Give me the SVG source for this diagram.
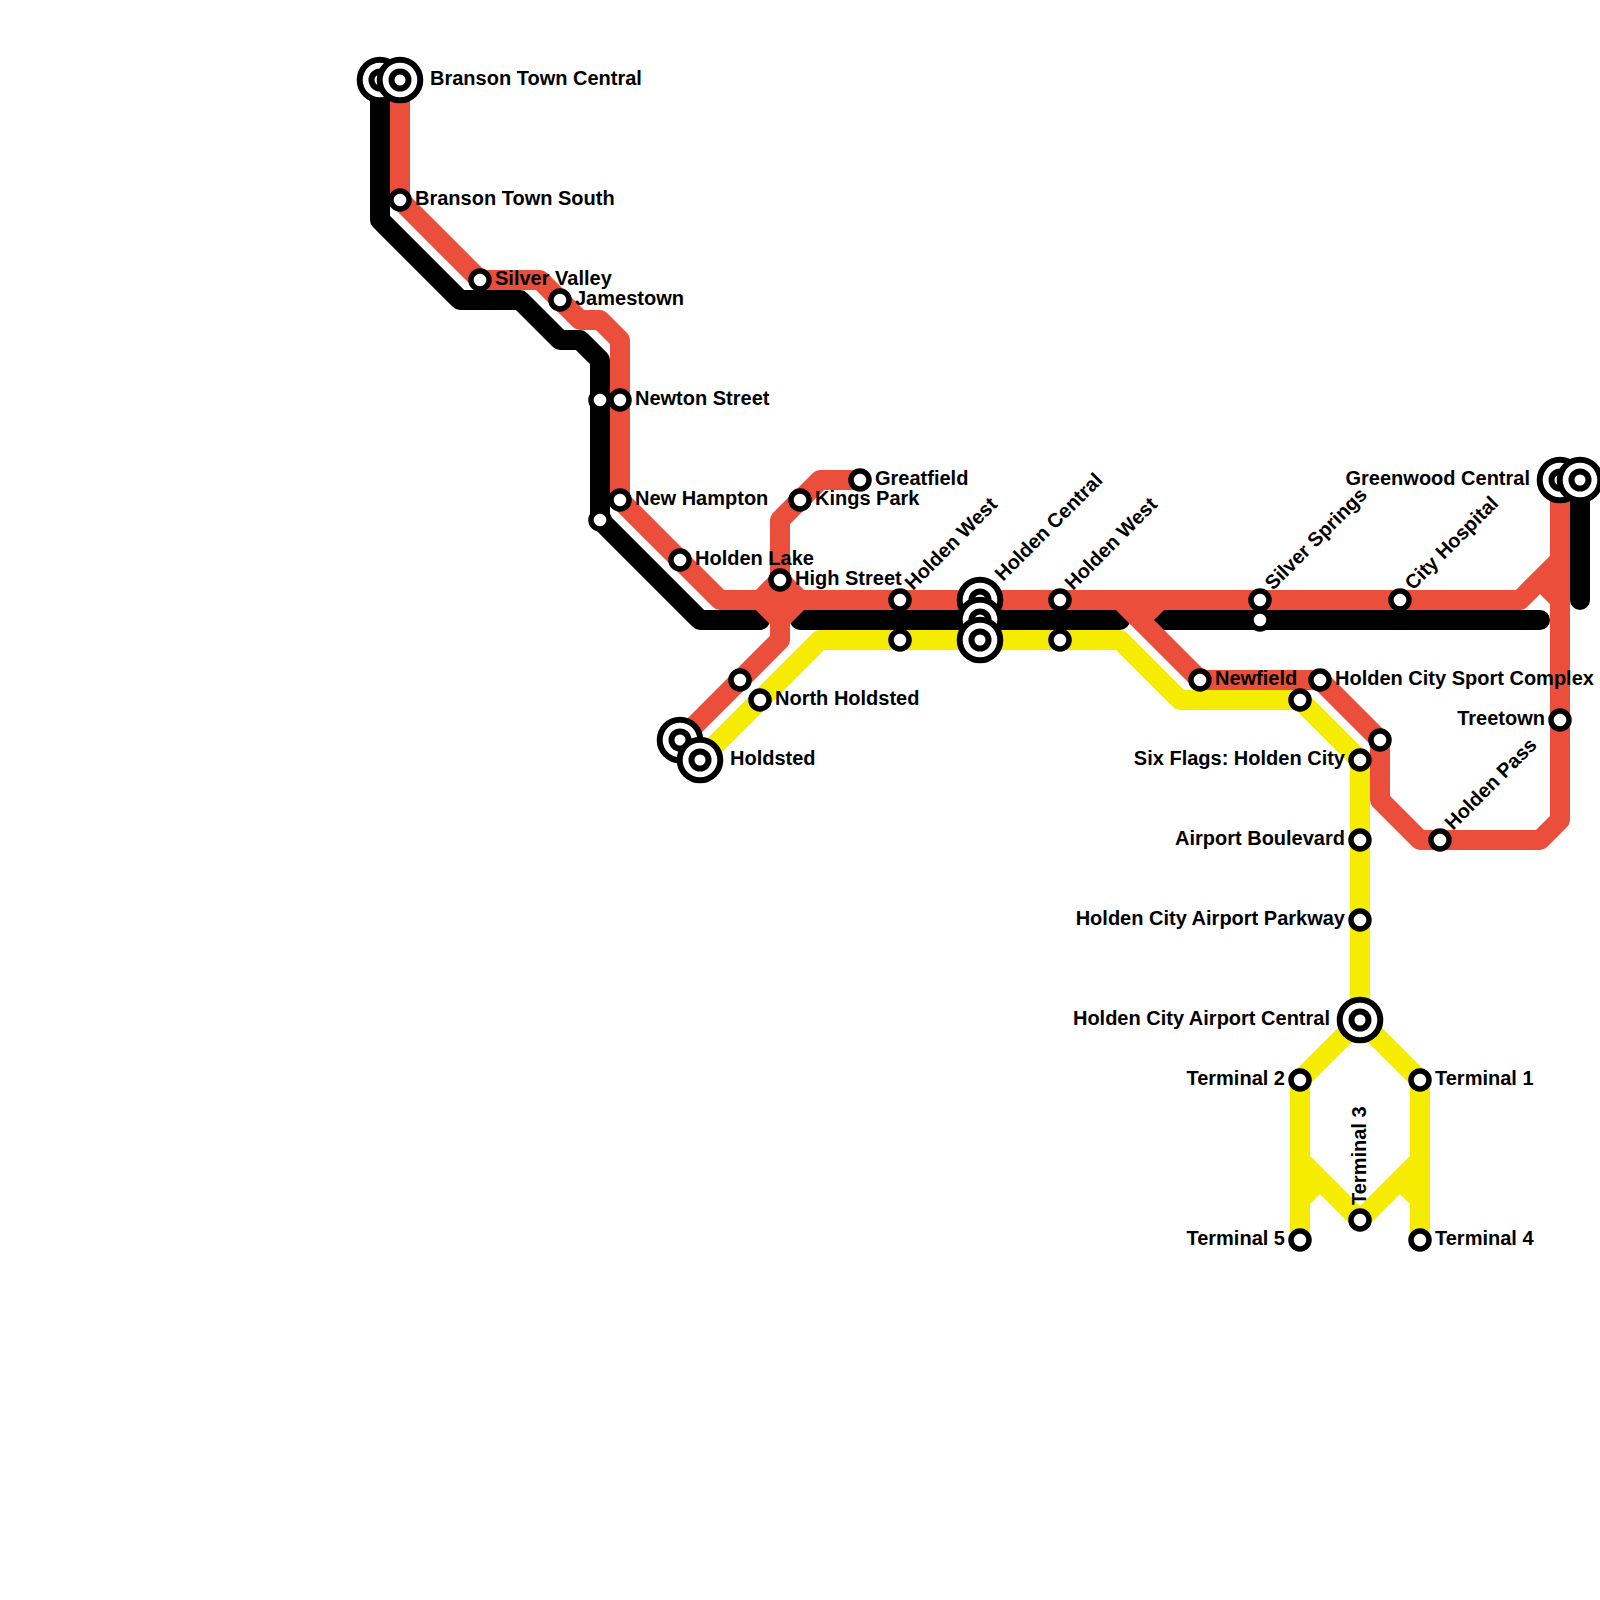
<svg xmlns="http://www.w3.org/2000/svg" width="1600" height="1600" viewBox="0 0 1600 1600">
<defs>
<style>
.ln{fill:none;stroke-width:20;stroke-linecap:round;stroke-linejoin:round}
.y{stroke:#f5ec00}
.k{stroke:#000}
.r{stroke:#eb4f3c}
.s{fill:#fff;stroke:#000;stroke-width:5.5}
.b{fill:#fff;stroke:#000;stroke-width:6}
text{font-family:"Liberation Sans",Arial,sans-serif;font-weight:700;font-size:20px;fill:#000}
.e{text-anchor:end}
</style>
<g id="stn"><circle class="s" r="9"/></g>
<g id="big"><circle class="b" r="20.3"/><circle class="b" r="8.5"/></g>
</defs>
<rect width="1600" height="1600" fill="#fff"/>
<g id="connectors">
<path class="ln y" d="M700 760L820 640H1120L1180 700H1300L1360 760V1020M1360 1020L1300 1080V1240M1300 1160L1360 1220M1320 1180L1300 1200M1360 1020L1420 1080V1240M1420 1160L1360 1220M1400 1180L1420 1200"/>
<path class="ln k" d="M380 80V220L460 300H520L560 340H580L600 360V520L700 620H760M800 620H1120M1160 620H1540M1580 480V600"/>
<path class="ln r" d="M400 80V200L480 280H540L580 320H600L620 340V500L720 600H1520L1560 560M760 600L780 620L800 600M760 600L780 580L800 600M680 740L780 640V520L820 480H860M1120 600L1200 680H1320L1380 740V800L1420 840H1540L1560 820V480M1160 600L1140 620M1540 580L1560 600"/>
</g>
<g id="n-branson-black"><use href="#big" x="380" y="80"/></g>
<g id="n-branson-central"><use href="#big" x="400" y="80"/><text x="430" y="85">Branson Town Central</text></g>
<g id="n-branson-south"><use href="#stn" x="400" y="200"/><text x="415" y="205">Branson Town South</text></g>
<g id="n-silver-valley"><text x="495" y="285">Silver Valley</text><use href="#stn" x="480" y="280"/></g>
<g id="n-jamestown"><use href="#stn" x="560" y="300"/><text x="575" y="305">Jamestown</text></g>
<g id="n-newton-black"><use href="#stn" x="600" y="400"/></g>
<g id="n-newton"><use href="#stn" x="620" y="400"/><text x="635" y="405">Newton Street</text></g>
<g id="n-hampton"><use href="#stn" x="620" y="500"/><text x="635" y="505">New Hampton</text></g>
<g id="n-hampton-black"><use href="#stn" x="600" y="520"/></g>
<g id="n-holden-lake"><text x="695" y="565">Holden Lake</text><use href="#stn" x="680" y="560"/></g>
<g id="n-high-street"><use href="#stn" x="780" y="580"/><text x="795" y="585">High Street</text></g>
<g id="n-kings-park"><use href="#stn" x="800" y="500"/><text x="815" y="505">Kings Park</text></g>
<g id="n-greatfield"><use href="#stn" x="860" y="480"/><text x="875" y="485">Greatfield</text></g>
<g id="n-holden-west-a"><use href="#stn" x="900" y="600"/><text transform="translate(913 591) rotate(-45)">Holden West</text></g>
<g id="n-holden-west-a2"><use href="#stn" x="900" y="640"/></g>
<g id="n-holden-central-r"><use href="#big" x="980" y="600"/><text transform="translate(1003 582) rotate(-45)">Holden Central</text></g>
<g id="n-holden-central-k"><use href="#big" x="980" y="620"/></g>
<g id="n-holden-central-y"><use href="#big" x="980" y="640"/></g>
<g id="n-holden-west-b"><use href="#stn" x="1060" y="600"/><text transform="translate(1073 591) rotate(-45)">Holden West</text></g>
<g id="n-holden-west-b2"><use href="#stn" x="1060" y="640"/></g>
<g id="n-north-holdsted-r"><use href="#stn" x="740" y="680"/></g>
<g id="n-north-holdsted"><use href="#stn" x="760" y="700"/><text x="775" y="705">North Holdsted</text></g>
<g id="n-holdsted-r"><use href="#big" x="680" y="740"/></g>
<g id="n-holdsted"><use href="#big" x="700" y="760"/><text x="730" y="765">Holdsted</text></g>
<g id="n-newfield"><text x="1215" y="685">Newfield</text><use href="#stn" x="1200" y="680"/></g>
<g id="n-sport-complex"><use href="#stn" x="1320" y="680"/><text x="1335" y="685">Holden City Sport Complex</text></g>
<g id="n-newfield-y"><use href="#stn" x="1300" y="700"/></g>
<g id="n-six-flags-r"><use href="#stn" x="1380" y="740"/></g>
<g id="n-six-flags"><use href="#stn" x="1360" y="760"/><text class="e" x="1345" y="765">Six Flags: Holden City</text></g>
<g id="n-airport-blvd"><use href="#stn" x="1360" y="840"/><text class="e" x="1345" y="845">Airport Boulevard</text></g>
<g id="n-airport-pkwy"><use href="#stn" x="1360" y="920"/><text class="e" x="1345" y="925">Holden City Airport Parkway</text></g>
<g id="n-airport-central"><use href="#big" x="1360" y="1020"/><text class="e" x="1330" y="1025">Holden City Airport Central</text></g>
<g id="n-terminal-2"><use href="#stn" x="1300" y="1080"/><text class="e" x="1285" y="1085">Terminal 2</text></g>
<g id="n-terminal-1"><use href="#stn" x="1420" y="1080"/><text x="1435" y="1085">Terminal 1</text></g>
<g id="n-terminal-3"><use href="#stn" x="1360" y="1220"/><text transform="translate(1366 1205) rotate(-90)">Terminal 3</text></g>
<g id="n-terminal-5"><use href="#stn" x="1300" y="1240"/><text class="e" x="1285" y="1245">Terminal 5</text></g>
<g id="n-terminal-4"><use href="#stn" x="1420" y="1240"/><text x="1435" y="1245">Terminal 4</text></g>
<g id="n-holden-pass"><use href="#stn" x="1440" y="840"/><text transform="translate(1453 831) rotate(-45)">Holden Pass</text></g>
<g id="n-treetown"><use href="#stn" x="1560" y="720"/><text class="e" x="1545" y="725">Treetown</text></g>
<g id="n-silver-springs"><use href="#stn" x="1260" y="600"/><text transform="translate(1273 591) rotate(-45)">Silver Springs</text></g>
<g id="n-silver-springs-k"><use href="#stn" x="1260" y="620"/></g>
<g id="n-city-hospital"><use href="#stn" x="1400" y="600"/><text transform="translate(1413 591) rotate(-45)">City Hospital</text></g>
<g id="n-greenwood"><use href="#big" x="1560" y="480"/><text class="e" x="1530" y="485">Greenwood Central</text></g>
<g id="n-greenwood-k"><use href="#big" x="1580" y="480"/></g>
</svg>
